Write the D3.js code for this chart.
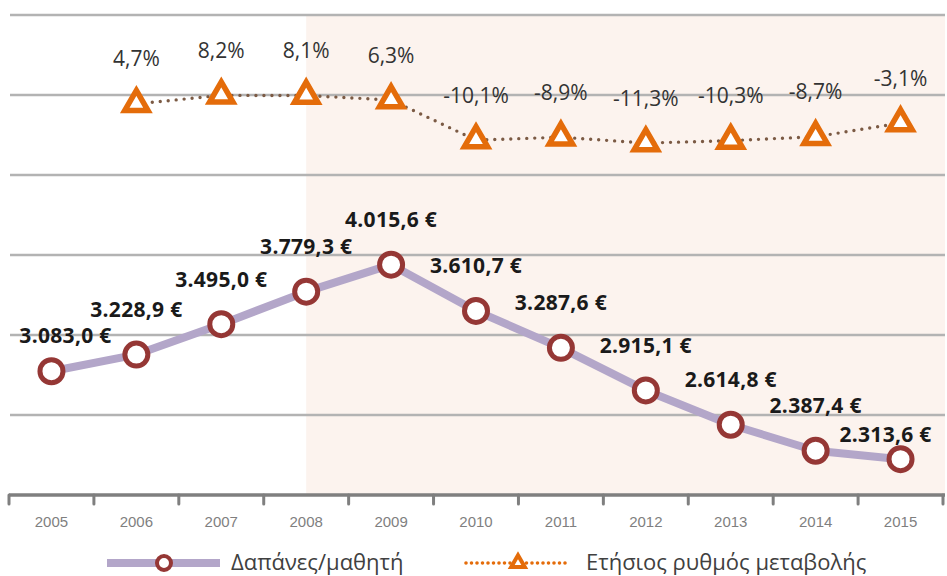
<!DOCTYPE html>
<html lang="el">
<head>
<meta charset="UTF-8">
<title>Δαπάνες/μαθητή 2005-2015</title>
<script src="https://d3js.org/d3.v7.min.js"></script>
<style>
  html, body { margin: 0; padding: 0; background: #fff; }
  svg { display: block; font-family: "Open Sans", "Noto Sans", sans-serif; }
  .pct-label { font-size: 21px; fill: #333; }
  .eur-label { font-size: 21px; font-weight: bold; fill: #1a1a1a; letter-spacing: 0.3px; }
  .x-axis text { font-size: 15px; fill: #7f7f7f; }
  .legend text { font-size: 22px; fill: #404040; }
</style>
</head>
<body>
<div id="chart"></div>
<script>
// δεδομένα
const years = ["2005", "2006", "2007", "2008", "2009", "2010", "2011", "2012", "2013", "2014", "2015"];
const spending = [3083.0, 3228.9, 3495.0, 3779.3, 4015.6, 3610.7, 3287.6, 2915.1, 2614.8, 2387.4, 2313.6];
const changeYears = ["2006", "2007", "2008", "2009", "2010", "2011", "2012", "2013", "2014", "2015"];
const change = [4.7, 8.2, 8.1, 6.3, -10.1, -8.9, -11.3, -10.3, -8.7, -3.1];
const seriesNames = ["Δαπάνες/μαθητή", "Ετήσιος ρυθμός μεταβολής"];
const shadeFrom = "2008";

const W = 947, H = 576;
const plotTop = 15, plotBottom = 495, plotLeft = 9, plotRight = 943;

const svg = d3.select("#chart").append("svg")
  .attr("width", W).attr("height", H);

const x = d3.scaleBand().domain(years).range([plotLeft, plotRight]).padding(0);
const cx = d => x(d) + x.bandwidth() / 2;

const y = d3.scaleLinear().domain([2000, 6200]).range([plotBottom, plotTop]);
const y2 = d3.scaleLinear().domain([-155, 41]).range([plotBottom, plotTop]);

// σκιασμένη περιοχή από 2008
svg.append("rect")
  .attr("x", cx(shadeFrom)).attr("y", plotTop)
  .attr("width", 945 - cx(shadeFrom)).attr("height", plotBottom - plotTop)
  .attr("fill", "#fcf3ee");

// γραμμές πλέγματος
svg.append("g")
  .selectAll("line")
  .data(d3.range(2000, 6201, 700).filter(v => v > 2000))
  .join("line")
  .attr("x1", 10).attr("x2", 945)
  .attr("y1", d => y(d)).attr("y2", d => y(d))
  .attr("stroke", "#b3b3b3").attr("stroke-width", 2.5);

// άξονας x
const xAxis = d3.axisBottom(x).tickSize(0).tickPadding(21);
const gx = svg.append("g")
  .attr("class", "x-axis")
  .attr("transform", `translate(0,${plotBottom})`)
  .call(xAxis);
gx.select(".domain").remove();
gx.append("line")
  .attr("x1", plotLeft).attr("x2", 945)
  .attr("stroke", "#7f7f7f").attr("stroke-width", 3.5);
gx.selectAll(".edge")
  .data(years.concat(["end"]))
  .join("line")
  .attr("class", "edge")
  .attr("x1", (d, i) => plotLeft + i * x.bandwidth())
  .attr("x2", (d, i) => plotLeft + i * x.bandwidth())
  .attr("y1", 0).attr("y2", 9)
  .attr("stroke", "#7f7f7f").attr("stroke-width", 3)
  .attr("stroke-linecap", "round");

// γραμμή δαπανών
const line = d3.line().x((d, i) => cx(years[i])).y(d => y(d));
svg.append("path")
  .datum(spending)
  .attr("d", line)
  .attr("fill", "none")
  .attr("stroke", "#b3a6c9")
  .attr("stroke-width", 8)
  .attr("stroke-linejoin", "round");

// γραμμή ρυθμού μεταβολής
const line2 = d3.line().x((d, i) => cx(changeYears[i])).y(d => y2(d));
svg.append("path")
  .datum(change)
  .attr("d", line2)
  .attr("fill", "none")
  .attr("stroke", "#7b5a44")
  .attr("stroke-width", 3.4)
  .attr("stroke-linecap", "round")
  .attr("stroke-dasharray", "0 8");

// κύκλοι
svg.append("g")
  .selectAll("circle")
  .data(spending)
  .join("circle")
  .attr("cx", (d, i) => cx(years[i]))
  .attr("cy", d => y(d))
  .attr("r", 11.5)
  .attr("fill", "#fff")
  .attr("stroke", "#953735")
  .attr("stroke-width", 5);

// τρίγωνα
const tri = d3.symbol(d3.symbolTriangle, 235);
svg.append("g")
  .selectAll("path")
  .data(change)
  .join("path")
  .attr("d", tri)
  .attr("transform", (d, i) => `translate(${cx(changeYears[i])},${y2(d)})`)
  .attr("fill", "#fff")
  .attr("stroke", "#e46c0a")
  .attr("stroke-width", 5.5)
  .attr("stroke-linejoin", "miter");

// ετικέτες
const fmtEur = v => d3.format(",.1f")(v).replace(/,/g, "#").replace(".", ",").replace(/#/g, ".") + " €";
const fmtPct = v => d3.format(".1f")(v).replace(".", ",").replace("−", "-") + "%";
const nudge = { "2005": [14, 9], "2015": [-15, 20] };

svg.append("g")
  .selectAll("text")
  .data(spending)
  .join("text")
  .attr("class", "eur-label")
  .attr("text-anchor", "middle")
  .attr("x", (d, i) => cx(years[i]) + (nudge[years[i]] ? nudge[years[i]][0] : 0))
  .attr("y", (d, i) => y(d) - 45 + (nudge[years[i]] ? nudge[years[i]][1] : 0))
  .attr("dy", "0.36em")
  .text(fmtEur);

svg.append("g")
  .selectAll("text")
  .data(change)
  .join("text")
  .attr("class", "pct-label")
  .attr("text-anchor", "middle")
  .attr("x", (d, i) => cx(changeYears[i]))
  .attr("y", d => y2(d) - 45)
  .attr("dy", "0.36em")
  .text(fmtPct);

// υπόμνημα
const lg = svg.append("g").attr("class", "legend").attr("transform", "translate(0,563)");
lg.append("line").attr("x1", 107).attr("x2", 220)
  .attr("stroke", "#b3a6c9").attr("stroke-width", 8);
lg.append("circle").attr("cx", 164).attr("r", 7)
  .attr("fill", "#fff").attr("stroke", "#953735").attr("stroke-width", 4);
lg.append("text").attr("x", 231).attr("dy", "0.33em").text(seriesNames[0]);

lg.append("line").attr("x1", 466).attr("x2", 570)
  .attr("stroke", "#e46c0a").attr("stroke-width", 3.6)
  .attr("stroke-linecap", "round").attr("stroke-dasharray", "0 5.5");
lg.append("path").attr("d", d3.symbol(d3.symbolTriangle, 80))
  .attr("transform", "translate(518,0)")
  .attr("fill", "#fff").attr("stroke", "#e46c0a").attr("stroke-width", 4);
lg.append("text").attr("x", 586).attr("dy", "0.33em").text(seriesNames[1]);
</script>
</body>
</html>
